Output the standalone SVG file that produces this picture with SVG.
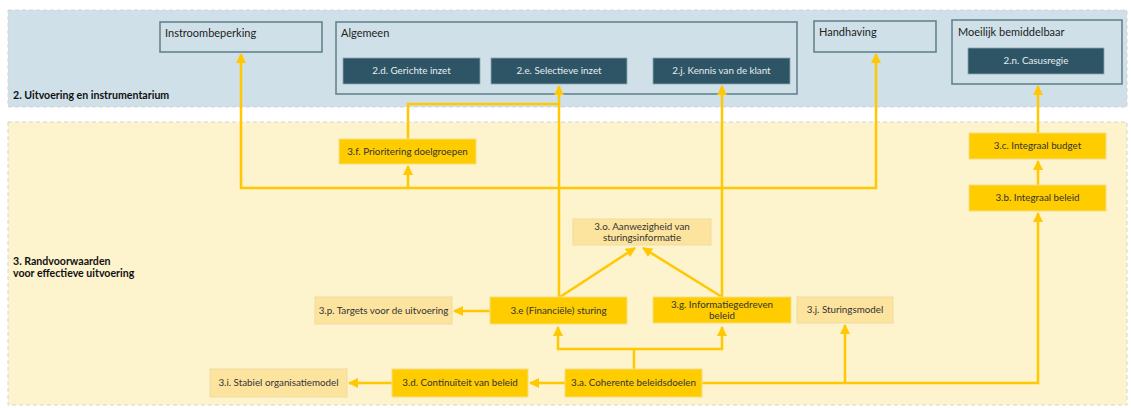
<svg xmlns="http://www.w3.org/2000/svg" width="1131" height="408" viewBox="0 0 1131 408">
<style>
.band{stroke:#d4d4d4;stroke-width:1;stroke-dasharray:4 3}
.grp{fill:none;stroke:#5d7d89;stroke-width:1.5}
.dk{fill:#2e5566;stroke:#8fa7b0;stroke-width:0.8}
.yl{fill:#ffcc00;stroke:#f3dd86;stroke-width:1}
.lt{fill:#fde49e;stroke:#f0dca0;stroke-width:1}
.t{font-family:Lato,"Liberation Sans",sans-serif;font-size:9.8px;fill:#333}
.tw{font-family:Lato,"Liberation Sans",sans-serif;font-size:9.8px;fill:#e6edf0;text-anchor:middle}
.tc{text-anchor:middle}
.th{font-family:Lato,"Liberation Sans",sans-serif;font-size:11px;fill:#222}
.tb{font-family:Lato,"Liberation Sans",sans-serif;font-size:10.6px;font-weight:bold;fill:#111}
.e{fill:none;stroke:#ffc800;stroke-width:2.5}
</style>
<defs>
<marker id="a" markerUnits="userSpaceOnUse" markerWidth="12" markerHeight="12" refX="9" refY="5" orient="auto">
<path d="M0,0 L10,5 L0,10 Z" fill="#ffc800"/>
</marker>
</defs>
<rect class="band" x="8" y="10" width="1119" height="97" fill="#cfe0e8"/>
<rect class="band" x="8" y="122" width="1119" height="283" fill="#fdf3cd"/>
<text class="tb" x="13" y="99">2. Uitvoering en instrumentarium</text>
<text class="tb" x="13" y="265">3. Randvoorwaarden</text>
<text class="tb" x="13" y="277">voor effectieve uitvoering</text>

<g id="instroombeperking"><rect class="grp" x="160" y="22" width="162" height="30"/><text class="th" x="165" y="37">Instroombeperking</text></g>
<g id="algemeen"><rect class="grp" x="336" y="22" width="461" height="72"/><text class="th" x="341" y="37">Algemeen</text></g>
<g id="n2d"><rect class="dk" x="343" y="58" width="137" height="26"/><text class="tw" x="411.5" y="74">2.d. Gerichte inzet</text></g>
<g id="n2e"><rect class="dk" x="491" y="58" width="136" height="26"/><text class="tw" x="559" y="74">2.e. Selectieve inzet</text></g>
<g id="n2j"><rect class="dk" x="653" y="58" width="137" height="26"/><text class="tw" x="721.5" y="74">2.j. Kennis van de klant</text></g>
<g id="handhaving"><rect class="grp" x="814" y="21" width="122" height="31"/><text class="th" x="819" y="36">Handhaving</text></g>
<g id="moeilijk"><rect class="grp" x="952" y="20" width="170" height="64"/><text class="th" x="958" y="36">Moeilijk bemiddelbaar</text></g>
<g id="n2n"><rect class="dk" x="968" y="48" width="136" height="26"/><text class="tw" x="1036" y="64">2.n. Casusregie</text></g>

<g id="edges">
<path class="e" d="M559,297 V86" marker-end="url(#a)"/>
<path class="e" d="M408,139 V104 H559"/>
<path class="e" d="M559,188 H241 V54" marker-end="url(#a)"/>
<path class="e" d="M559,188 H876 V54" marker-end="url(#a)"/>
<path class="e" d="M408,188 V166" marker-end="url(#a)"/>
<path class="e" d="M722,297 V86" marker-end="url(#a)"/>
<path class="e" d="M560,297 L635,248" marker-end="url(#a)"/>
<path class="e" d="M722,297 L643,248" marker-end="url(#a)"/>
<path class="e" d="M490,311 H454" marker-end="url(#a)"/>
<path class="e" d="M634,369 V349"/>
<path class="e" d="M634,349 H558 V327" marker-end="url(#a)"/>
<path class="e" d="M634,349 H722 V327" marker-end="url(#a)"/>
<path class="e" d="M565,383 H530" marker-end="url(#a)"/>
<path class="e" d="M392,383 H349" marker-end="url(#a)"/>
<path class="e" d="M702,383 H1038 V213" marker-end="url(#a)"/>
<path class="e" d="M845,383 V325" marker-end="url(#a)"/>
<path class="e" d="M1038,185 V161" marker-end="url(#a)"/>
<path class="e" d="M1038,133 V86" marker-end="url(#a)"/>
</g>

<g id="n3f"><rect class="yl" x="339" y="139" width="137" height="25"/><text class="t tc" x="407.5" y="155">3.f. Prioritering doelgroepen</text></g>
<g id="n3c"><rect class="yl" x="969" y="133" width="137" height="26"/><text class="t tc" x="1037.5" y="149">3.c. Integraal budget</text></g>
<g id="n3b"><rect class="yl" x="969" y="185" width="137" height="26"/><text class="t tc" x="1037.5" y="201">3.b. Integraal beleid</text></g>
<g id="n3o"><rect class="lt" x="573" y="219" width="138" height="26"/><text class="t tc" x="642" y="230">3.o. Aanwezigheid van</text><text class="t tc" x="642" y="241">sturingsinformatie</text></g>
<g id="n3p"><rect class="lt" x="315" y="297" width="137" height="27"/><text class="t tc" x="383.5" y="314">3.p. Targets voor de uitvoering</text></g>
<g id="n3e"><rect class="yl" x="490" y="297" width="137" height="27"/><text class="t tc" x="558.5" y="314">3.e (Financiële) sturing</text></g>
<g id="n3g"><rect class="yl" x="653" y="297" width="138" height="26"/><text class="t tc" x="722" y="308">3.g. Informatiegedreven</text><text class="t tc" x="722" y="319">beleid</text></g>
<g id="n3j"><rect class="lt" x="797" y="297" width="96" height="26"/><text class="t tc" x="845" y="313">3.j. Sturingsmodel</text></g>
<g id="n3i"><rect class="lt" x="210" y="369" width="137" height="28"/><text class="t tc" x="278.5" y="386">3.i. Stabiel organisatiemodel</text></g>
<g id="n3d"><rect class="yl" x="392" y="369" width="136" height="28"/><text class="t tc" x="460" y="386">3.d. Continuïteit van beleid</text></g>
<g id="n3a"><rect class="yl" x="565" y="369" width="137" height="28"/><text class="t tc" x="633.5" y="386">3.a. Coherente beleidsdoelen</text></g>
</svg>
